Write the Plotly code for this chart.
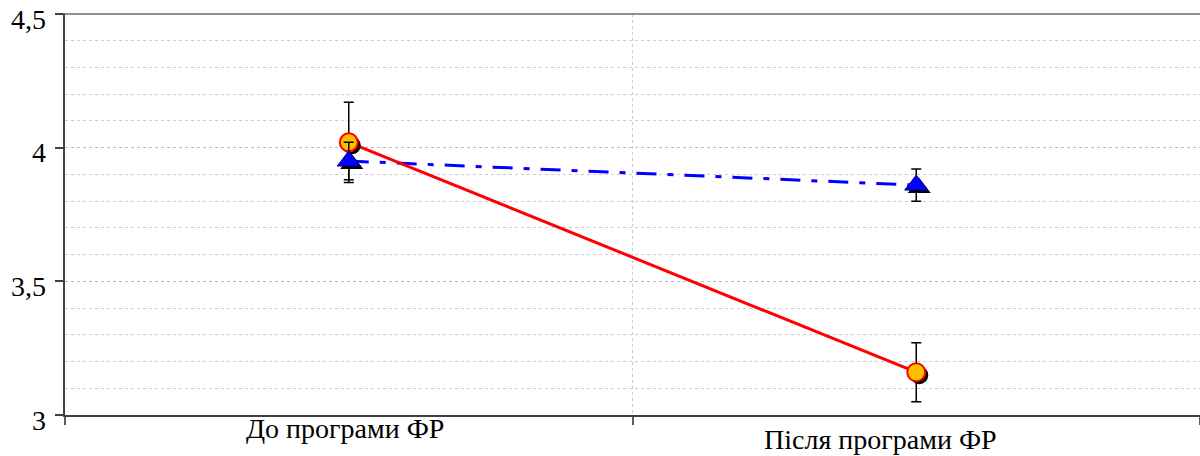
import plotly.graph_objects as go

categories = ["До програми ФР", "Після програми ФР"]
red_values = [4.02, 3.16]
red_errors = [0.15, 0.11]
blue_values = [3.95, 3.86]
blue_errors = [0.07, 0.06]
y_tickvals = [3, 3.5, 4, 4.5]
y_ticktext = ["3", "3,5", "4", "4,5"]

FONT = "Liberation Serif"
Y_RANGE = [3, 4.5]
X_RANGE = [-0.5, 1.5]
PLOT_W = 1135
PLOT_H = 401
SHADOW_PX = 3
dx = SHADOW_PX * (X_RANGE[1] - X_RANGE[0]) / PLOT_W
dy = SHADOW_PX * (Y_RANGE[1] - Y_RANGE[0]) / PLOT_H

fig = go.Figure()

# lines on main axes
fig.add_trace(go.Scatter(x=categories, y=blue_values, mode="lines",
                         line=dict(color="#0000FF", width=3, dash="20px,11px,6px,11px"),
                         xaxis="x", yaxis="y", hoverinfo="skip"))
fig.add_trace(go.Scatter(x=categories, y=red_values, mode="lines",
                         line=dict(color="#FF0000", width=3),
                         xaxis="x", yaxis="y", hoverinfo="skip"))

# shadows on shifted axes
fig.add_trace(go.Scatter(x=categories, y=blue_values, mode="markers",
                         marker=dict(symbol="triangle-up", size=20, color="black",
                                     line=dict(width=0)),
                         xaxis="x2", yaxis="y2", hoverinfo="skip"))
fig.add_trace(go.Scatter(x=categories, y=red_values, mode="markers",
                         marker=dict(symbol="circle", size=18, color="black",
                                     line=dict(width=0)),
                         xaxis="x2", yaxis="y2", hoverinfo="skip"))

# markers + error bars on overlay axes
fig.add_trace(go.Scatter(x=categories, y=red_values, mode="markers",
                         error_y=dict(type="data", array=red_errors, color="black",
                                      thickness=1.5, width=5),
                         marker=dict(symbol="circle", size=18, color="#FFC000",
                                     line=dict(color="#FF0000", width=2)),
                         xaxis="x3", yaxis="y3"))
fig.add_trace(go.Scatter(x=categories, y=blue_values, mode="markers",
                         error_y=dict(type="data", array=blue_errors, color="black",
                                      thickness=1.5, width=5),
                         marker=dict(symbol="triangle-up", size=20, color="#0000FF",
                                     line=dict(color="#000080", width=1)),
                         xaxis="x3", yaxis="y3"))

hidden = dict(visible=False, showgrid=False, zeroline=False)

tick_label_annotations = [
    dict(x=0, xref="paper", y=v, yref="y", xanchor="right", yanchor="middle",
         text=t, showarrow=False, xshift=-17, yshift=-5,
         font=dict(family=FONT, size=28))
    for v, t in zip(y_tickvals, y_ticktext)
]

fig.update_layout(
    width=1200, height=456,
    margin=dict(l=65, r=0, t=14, b=41),
    paper_bgcolor="white", plot_bgcolor="white",
    showlegend=False,
    font=dict(family=FONT, size=28, color="black"),
    xaxis=dict(type="category", categoryorder="array", categoryarray=categories,
               range=X_RANGE, tickson="boundaries", showticklabels=False,
               ticks="outside", ticklen=8, tickcolor="#606060", tickwidth=2,
               showline=True, linecolor="#404040", linewidth=2,
               showgrid=True, gridcolor="#CCCCCC", griddash="dot", gridwidth=1,
               zeroline=False),
    yaxis=dict(range=Y_RANGE, tickvals=y_tickvals, ticktext=y_ticktext,
               showticklabels=False,
               ticks="outside", ticklen=8, tickcolor="#404040", tickwidth=1.5,
               showline=True, linecolor="#404040", linewidth=2,
               showgrid=True, gridcolor="#BBBBBB", griddash="dot", gridwidth=1,
               minor=dict(dtick=0.1, tick0=3, showgrid=True, gridcolor="#CCCCCC",
                          griddash="dot", gridwidth=1, ticks=""),
               zeroline=False),
    xaxis2=dict(type="category", categoryorder="array", categoryarray=categories,
                overlaying="x", range=[X_RANGE[0] - dx, X_RANGE[1] - dx], **hidden),
    yaxis2=dict(overlaying="y", range=[Y_RANGE[0] + dy, Y_RANGE[1] + dy], **hidden),
    xaxis3=dict(type="category", categoryorder="array", categoryarray=categories,
                overlaying="x", range=X_RANGE, **hidden),
    yaxis3=dict(overlaying="y", range=Y_RANGE, **hidden),
    shapes=[
        dict(type="line", xref="paper", yref="paper", x0=0, x1=1, y0=1, y1=1,
             line=dict(color="#909090", width=2), layer="above"),
        dict(type="line", xref="paper", yref="paper", x0=0, x1=-8 / PLOT_W,
             y0=1, y1=1, line=dict(color="#404040", width=1.5), layer="above"),
    ],
    annotations=tick_label_annotations + [
        dict(x=categories[0], xref="x", y=0, yref="paper", yanchor="top",
             text=categories[0], showarrow=False, xshift=-4, yshift=4,
             font=dict(family=FONT, size=28)),
        dict(x=categories[1], xref="x", y=0, yref="paper", yanchor="top",
             text=categories[1], showarrow=False, xshift=-36, yshift=-7,
             font=dict(family=FONT, size=28)),
    ],
)

fig.write_html("out.html")
